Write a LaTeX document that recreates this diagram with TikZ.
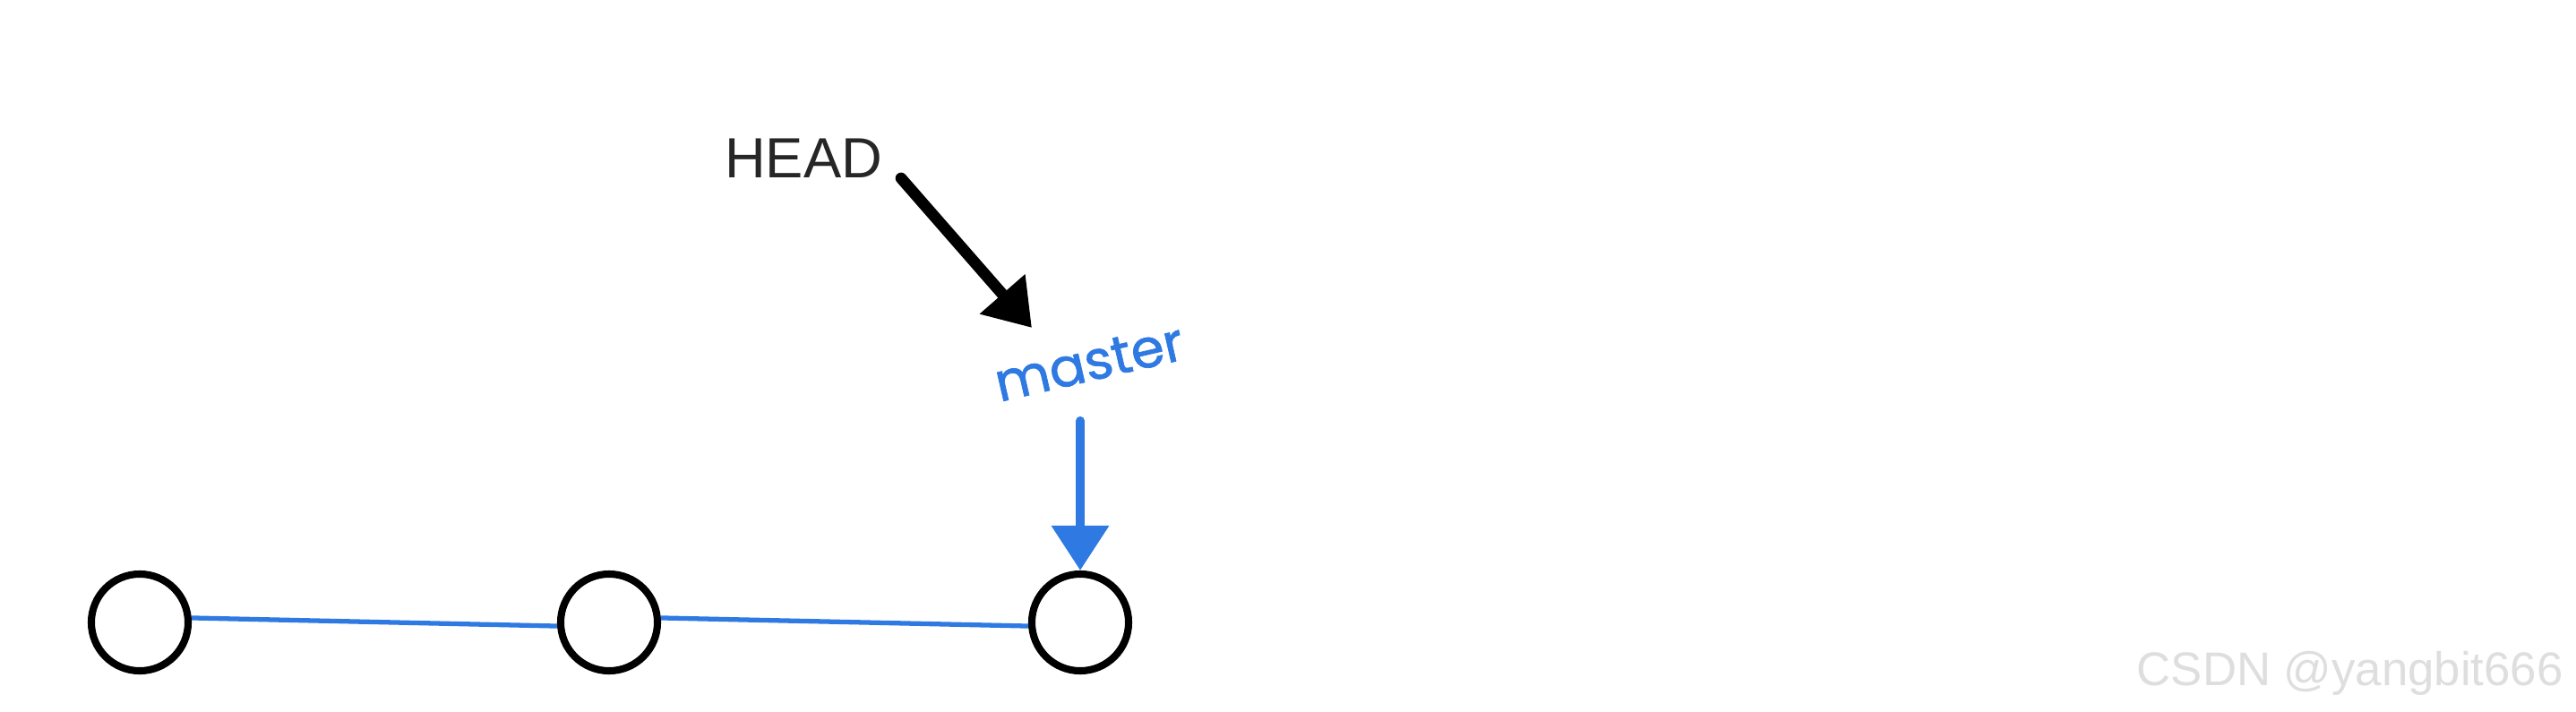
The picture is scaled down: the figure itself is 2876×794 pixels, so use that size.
\documentclass[tikz,border=0pt]{standalone}
\usepackage{fontspec}
\setmainfont{Liberation Sans}
\newfontfamily\mfont{Poppins}[FakeBold=1.2]
\usetikzlibrary{arrows.meta}
\definecolor{gitblue}{RGB}{47,122,226}
\definecolor{wmgray}{RGB}{222,222,222}
\begin{document}
\begin{tikzpicture}[x=0.01cm,y=-0.01cm,
  commit/.style={circle,draw=black,line width=2.3pt,minimum size=1.08cm,inner sep=0pt,fill=white},
  link/.style={draw=gitblue,line width=1.5pt},
  headarrow/.style={draw=black,line width=3.6pt,line cap=round,-{Triangle[length=0.5cm,width=0.64cm]}},
  brancharrow/.style={draw=gitblue,line width=2.9pt,line cap=round,-{Triangle[length=0.5cm,width=0.62cm]}},
  ]
\useasboundingbox[fill=white] (0,0) rectangle (2876,794);
\node[commit] (c1) at (156,695) {};
\node[commit] (c2) at (680,695) {};
\node[commit] (c3) at (1206,695) {};
\draw[link] (c1.5) -- (c2.184);
\draw[link] (c2.5) -- (c3.184);
\node[font=\fontsize{18}{20}\selectfont, text=black!85] (head) at (897,177) {HEAD};
\node[font=\mfont\fontsize{17}{20}\selectfont, text=gitblue, rotate=13, inner sep=1pt] (master) at (1216,405) {master};
\coordinate (hs) at (1006,199);
\coordinate (ht) at (1152,366);
\draw[headarrow] (hs) -- (ht);
\coordinate (ms) at (1206,470);
\draw[brancharrow] (ms) -- (c3.north);
\node[font=\fontsize{15}{18}\selectfont, text=wmgray, anchor=base west, inner sep=0pt] (wm) at (2385,765) {CSDN @yangbit666};
\end{tikzpicture}
\end{document}
